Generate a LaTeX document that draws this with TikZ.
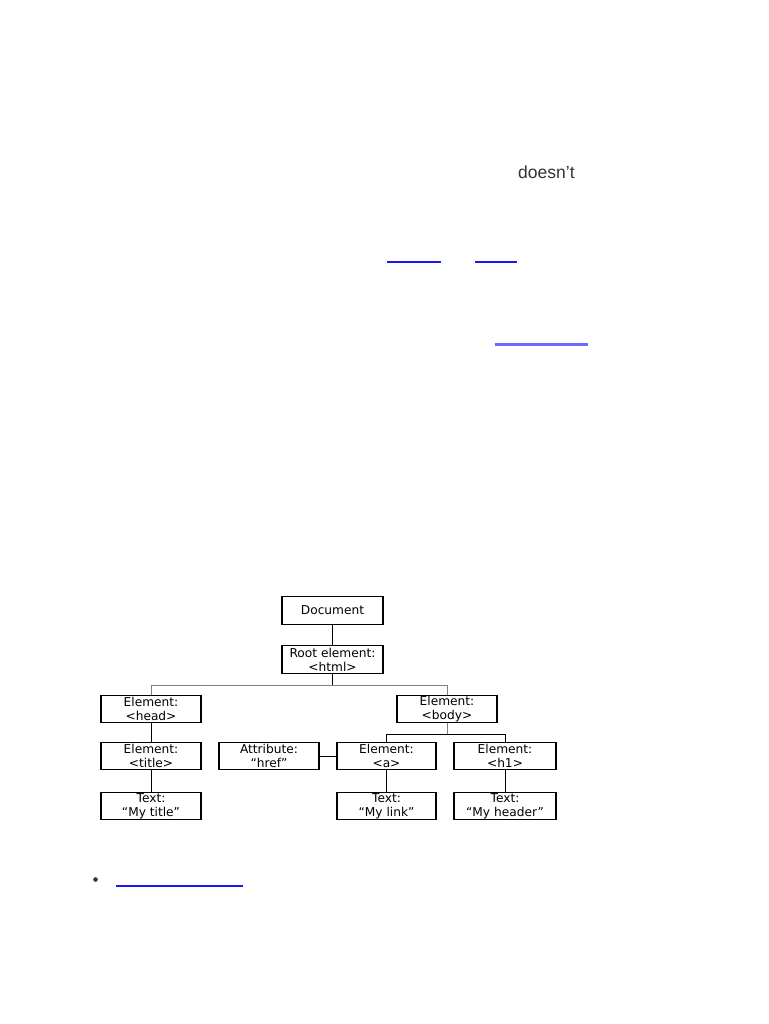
\documentclass[tikz,border=0pt]{standalone}
\usepackage{fontspec}
\setmainfont{DejaVu Sans}
\newfontfamily\arialfont{Liberation Sans}
\definecolor{linkblue}{HTML}{1A1AEE}
\definecolor{visitblue}{HTML}{6A6AFF}
\definecolor{bodytext}{HTML}{333333}
\definecolor{bargray}{HTML}{808080}
\begin{document}
\begin{tikzpicture}[x=1pt,y=-1pt,
  treebox/.style={draw=black, line width=1.2pt, minimum width=100pt, minimum height=27.5pt,
    inner sep=0pt, align=center, text=black, font=\fontsize{12.2}{13.8}\selectfont},
  conn/.style={draw=black, line width=1pt},
  barconn/.style={draw=bargray, line width=1pt},
  underline/.style={line width=2.4pt, line cap=butt}]
\fill[white] (0,0) rectangle (768,1024);
\useasboundingbox (0,0) rectangle (768,1024);

% stray page text
\node[anchor=base west, inner sep=0pt, text=bodytext, font=\arialfont\fontsize{17.5}{20}\selectfont] (doesnt) at (518,178.3) {doesn’t};
\draw[underline, linkblue] (387.3,261.7) -- (440.7,261.7);
\draw[underline, linkblue] (475,261.7) -- (516.7,261.7);
\draw[underline, visitblue] (494.7,344.3) -- (588.3,344.3);
\fill[bodytext] (95.5,879.5) circle (2.3);
\draw[line width=1.4pt, linkblue] (116.3,886) -- (243,886);

% tree
\node[treebox, minimum width=101pt] (doc) at (332.5,610.5) {Document};
\node[treebox, minimum width=101pt] (root) at (332.5,659.5) {Root element:\\<html>};
\node[treebox] (head) at (151,709) {Element:\\<head>};
\node[treebox] (body) at (447,709) {Element:\\<body>};
\node[treebox] (title) at (151,756) {Element:\\<title>};
\node[treebox] (attr) at (269,756) {Attribute:\\“href”};
\node[treebox, minimum width=99pt] (a) at (386.5,756) {Element:\\<a>};
\node[treebox, minimum width=102pt] (h1) at (505,756) {Element:\\<h1>};
\node[treebox] (mytitle) at (151,806) {Text:\\“My title”};
\node[treebox, minimum width=99pt] (mylink) at (386.5,806) {Text:\\“My link”};
\node[treebox, minimum width=102pt] (myheader) at (505,806) {Text:\\“My header”};

\draw[conn] (doc) -- (root);
\draw[conn] (root.south) -- ++(0,11.3) coordinate (rootbar);
\draw[barconn] (head.north) -- (head.north |- rootbar) -- (body.north |- rootbar) -- (body.north);
\draw[barconn] (body.south) -- ++(0,11.3) coordinate (bodybar);
\draw[conn] (a.north) -- (a.north |- bodybar) -- (h1.north |- bodybar) -- (h1.north);
\draw[conn] (head) -- (title);
\draw[conn] (title) -- (mytitle);
\draw[conn] (attr) -- (a);
\draw[conn] (a) -- (mylink);
\draw[conn] (h1) -- (myheader);
\end{tikzpicture}
\end{document}
